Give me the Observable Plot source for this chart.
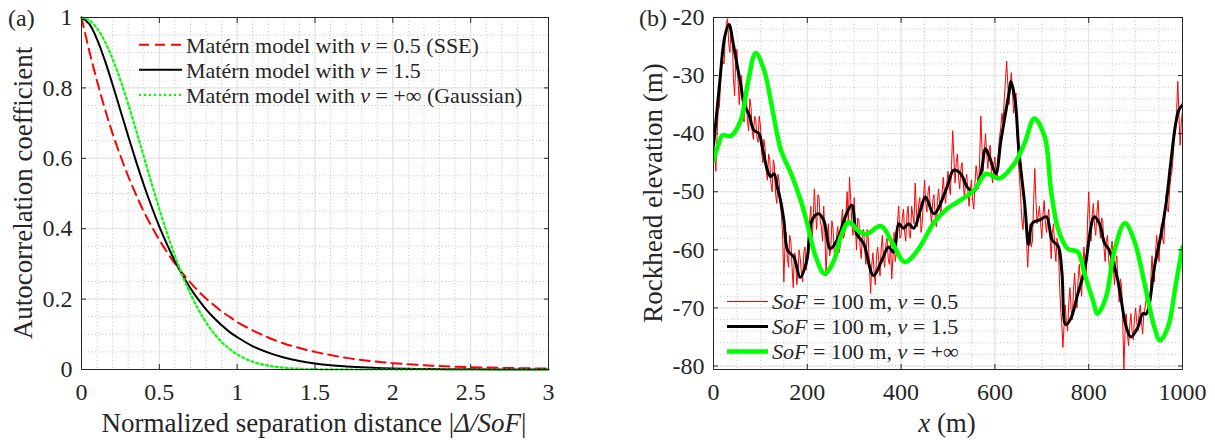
<!DOCTYPE html>
<html><head><meta charset="utf-8">
<script src="https://cdn.jsdelivr.net/npm/d3@7"></script>
<script src="https://cdn.jsdelivr.net/npm/@observablehq/plot@0.6"></script>
<style>
body{margin:0;background:#fff;width:1215px;height:440px;position:relative;overflow:hidden;font-family:"Liberation Serif","Times New Roman",serif;color:#262626}
.abs{position:absolute;top:0}
</style></head><body>
<div id="pa" class="abs" style="left:0"></div>
<div id="pb" class="abs" style="left:600px"></div>
<script>
// ---------- Panel (a) data ----------
const dist = [0,0.05,0.1,0.15,0.2,0.25,0.3,0.35,0.4,0.45,0.5,0.55,0.6,0.65,0.7,0.75,0.8,0.85,0.9,0.95,1,1.1,1.2,1.3,1.4,1.5,1.6,1.7,1.8,1.9,2,2.25,2.5,2.75,3];
const rhoSSE = [1,0.905,0.819,0.741,0.670,0.607,0.549,0.497,0.449,0.407,0.368,0.333,0.301,0.273,0.247,0.223,0.202,0.183,0.165,0.150,0.135,0.111,0.091,0.074,0.061,0.050,0.041,0.033,0.027,0.022,0.018,0.011,0.0067,0.0041,0.0025];
const rhoM15 = [1,0.982,0.938,0.878,0.809,0.736,0.663,0.592,0.525,0.463,0.406,0.355,0.308,0.267,0.231,0.199,0.171,0.147,0.126,0.107,0.092,0.066,0.048,0.034,0.024,0.017,0.012,0.0087,0.0061,0.0043,0.003,0.0012,0.0005,0.0002,0.0001];
const rhoGauss = [1,0.992,0.969,0.932,0.882,0.822,0.754,0.681,0.605,0.529,0.456,0.387,0.323,0.265,0.215,0.171,0.134,0.103,0.078,0.059,0.043,0.022,0.011,0.0049,0.0021,0.0009,0.0003,0.0001,0,0,0,0,0,0,0];
const ticksXa = [0,0.5,1,1.5,2,2.5,3];
const ticksYa = [0,0.2,0.4,0.6,0.8,1];
const legendA = [
  ["Matérn model with ", "ν", " = 0.5 (SSE)"],
  ["Matérn model with ", "ν", " = 1.5"],
  ["Matérn model with ", "ν", " = +∞ (Gaussian)"]
];

// ---------- Panel (b) data ----------
const xRed = [0,5,10,15,20,25,30,35,40,45,50,55,60,65,70,75,80,85,90,95,100,105,110,115,120,125,130,135,140,145,150,155,160,165,170,175,180,185,190,195,200,205,210,215,220,225,230,235,240,245,250,255,260,265,270,275,280,285,290,295,300,305,310,315,320,325,330,335,340,345,350,355,360,365,370,375,380,385,390,395,400,405,410,415,420,425,430,435,440,445,450,455,460,465,470,475,480,485,490,495,500,505,510,515,520,525,530,535,540,545,550,555,560,565,570,575,580,585,590,595,600,605,610,615,620,625,630,635,640,645,650,655,660,665,670,675,680,685,690,695,700,705,710,715,720,725,730,735,740,745,750,755,760,765,770,775,780,785,790,795,800,805,810,815,820,825,830,835,840,845,850,855,860,865,870,875,880,885,890,895,900,905,910,915,920,925,930,935,940,945,950,955,960,965,970,975,980,985,990,995,1000];
const zRed = [
 -41.5,-46.5,-36,-31,-27.5,-23.5,-20.2,-26,-23,-33.5,
 -25.5,-35,-30,-38,-33.5,-39.5,-35.5,-41,-37.5,-41.5,
 -38.5,-45,-42.5,-48,-44.5,-50,-45.5,-52,-48.5,-54,
 -65.5,-57,-63,-58.5,-66.5,-61,-64.5,-61.5,-65.5,-59.5,
 -62,-55,-58.5,-49.5,-56.5,-51,-56,-52.5,-64.5,-55.5,
 -60,-56.5,-62,-56,-59.5,-53,-57,-50,-47.5,-55.5,
 -51,-60,-55,-61.5,-56.5,-62.5,-58,-67.5,-60.5,-66,
 -59.5,-64.5,-57.5,-63,-58,-62.5,-65,-57,-60.5,-52.5,
 -57.5,-53,-58.5,-52.5,-58,-54,-48.5,-56,-51,-55.5,
 -48,-53.5,-49,-55.5,-50.5,-56,-49.5,-54,-47.5,-52,
 -46.5,-50.5,-39.5,-48.5,-43.5,-49.5,-45,-51,-47,-52.5,
 -48,-53,-45.5,-49.5,-37,-46.5,-40,-46,-42,-48.5,
 -44,-48,-40.5,-36.5,-34,-27.5,-35,-29.5,-36.5,-33,
 -45,-51,-56.5,-53,-63,-55.5,-58.5,-46,-55.5,-52.5,
 -58,-51.5,-57,-53,-61.5,-55.5,-62,-59,-70,-76.8,
 -69.5,-74,-66.5,-72,-64,-70,-62.5,-68,-59.5,-64,
 -50,-58.5,-52,-57.5,-51.5,-58,-55,-62,-57.5,-64,
 -58.5,-66,-61,-69,-66,-80.5,-71,-76.5,-71,-75.5,
 -70,-74,-69.5,-74.5,-70,-67,-70.5,-61,-65.5,-57.5,
 -62,-55.5,-59,-50.5,-53.5,-47.5,-44,-39.5,-31,-42,
 -36];
// readings half-way between the 5 m samples (x = 2.5, 7.5, ... 997.5)
const zRedMid = [
 -43,-40.5,-35.5,-27,-28,-21,-24.5,-22,-30.5,-27,
 -31,-30.5,-36,-34,-38,-34,-39.5,-37,-40.5,-37,
 -43,-41,-46.5,-43.5,-48.5,-44.5,-50.5,-47,-52.5,-58,
 -59,-61.5,-57.5,-63,-60.5,-66,-60,-64,-60.5,-63.5,
 -57.5,-52.5,-55,-53.5,-50.5,-55,-58.5,-57,-59,-61,
 -55,-60.5,-57.5,-60.5,-55.5,-58,-54,-55.5,-51.5,-57.5,
 -56,-54.5,-59.5,-57,-60,-56.5,-63,-62.5,-64,-61,
 -62,-60,-61.5,-59,-61.5,-58.5,-61.5,-62,-55,-58,
 -54.5,-57,-54,-57.5,-52.5,-55.5,-53,-52,-57,-51.5,
 -52,-50,-53.5,-51.5,-54,-51.5,-52.5,-50,-50.5,-48.5,
 -49,-45.5,-44,-45,-47.5,-46,-48.5,-48,-50,-49.5,
 -51.5,-48.5,-47.5,-44.5,-42.5,-43,-43.5,-43,-46.5,-45.5,
 -47,-43,-39,-38,-31,-31.5,-32,-33,-34,-40,
 -47.5,-55,-52.5,-58.5,-58,-59.5,-52,-51.5,-54,-55.5,
 -54,-55,-54.5,-57.5,-57,-59.5,-58,-65,-72.5,-73,
 -72.5,-69,-70.5,-67,-68,-65,-66,-62.5,-63,-55,
 -55,-54,-56,-53.5,-55.5,-54.5,-59.5,-58.5,-61.5,-60,
 -63,-62.5,-66,-65,-72,-74,-74.5,-73,-74,-72,
 -72.5,-71,-72.5,-71,-68.5,-69,-65,-64,-60.5,-60,
 -57.5,-58,-54,-53,-49.5,-46.5,-40.5,-36,-37,-38];
const xBlack = [0,5,13,24,33,42,51,58,65,76,86,97,104,115,122,129,136,143,150,158,171,185,199,210,224,235,249,263,284,295,305,320,341,359,373,384,395,405,416,427,441,452,470,498,512,527,541,555,570,580,591,602,613,630,634,643,651,664,672,680,697,710,722,735,743,751,762,776,791,812,823,834,844,862,880,890,905,915,923,940,955,965,975,985,992,1000];
const zBlack = [-42,-38,-31.4,-23.3,-21.2,-24.5,-28.5,-31.5,-34.8,-36.8,-39.4,-40,-42.3,-46.3,-47.4,-46.9,-49.2,-51.5,-54.9,-60.1,-61.2,-64.7,-61.8,-54.9,-53.8,-54.9,-59.8,-58.4,-53.7,-52.3,-57.2,-58.9,-64.4,-61.8,-59.5,-60.4,-55.5,-56.3,-55.5,-56.3,-53.2,-50.9,-53.8,-49.2,-46.3,-46.9,-49.2,-50,-46.9,-42.6,-44.6,-46.9,-41.1,-33,-31,-34.2,-42.8,-52.5,-59.1,-55.4,-54.8,-54.3,-58.3,-59.4,-64,-72.9,-71.8,-67.8,-63.5,-54.3,-55.5,-58.9,-60.1,-65.2,-73.3,-75,-73.3,-71,-71,-63,-57,-52,-45,-38.5,-36,-35];
const xGreen = [0,10,19,37,58,73,90,108,126,144,165,186,200,218,237,257,271,289,307,325,357,382,408,435,470,500,520,556,581,610,642,663,684,706,720,735,755,777,791,809,819,837,855,877,897,919,940,952,969,986,1000];
const zGreen = [-44.6,-42,-40.3,-40.4,-37.7,-31.4,-26.1,-29.1,-36,-42.9,-46.8,-51.5,-55.5,-61.2,-64.1,-61.8,-57.8,-55.2,-56.6,-57.3,-55.9,-58.9,-62.1,-60.1,-55.3,-52.8,-51.8,-49.7,-46.9,-47.7,-45.1,-41.7,-37.4,-40.5,-50,-56.5,-59.8,-60.4,-64.1,-68.7,-71,-68.1,-60.1,-55.4,-58.4,-65.8,-73.3,-75.6,-73.3,-65.8,-59.5];
const ticksXb = [0,200,400,600,800,1000];
const ticksYb = [-80,-70,-60,-50,-40,-30,-20];
const legendB = [
  ["SoF", " = 100 m, ", "ν", " = 0.5"],
  ["SoF", " = 100 m, ", "ν", " = 1.5"],
  ["SoF", " = 100 m, ", "ν", " = +∞"]
];

const FONT = "'Liberation Serif', 'Times New Roman', serif";
const INK = "#262626";
const MAJOR = "#e3e3e3";
const MINOR = "#c4c4c4";
const fmt = d => String(d);
const blank = () => "";
const baseStyle = {fontFamily: FONT, fontSize: "24px", color: INK, background: "transparent", overflow: "visible"};

function frameMarks(tx, ty) {
  return [
    Plot.frame({stroke: INK, strokeWidth: 1}),
    Plot.axisX(tx, {anchor: "bottom", tickSize: 0, tickPadding: 13, tickFormat: fmt, label: null}),
    Plot.axisY(ty, {anchor: "left", tickSize: 0, tickPadding: 9, tickFormat: fmt, label: null}),
    Plot.axisX(tx, {anchor: "bottom", tickSize: -5, tickFormat: blank, label: null, stroke: INK}),
    Plot.axisX(tx, {anchor: "top", tickSize: -5, tickFormat: blank, label: null, stroke: INK}),
    Plot.axisY(ty, {anchor: "left", tickSize: -5, tickFormat: blank, label: null, stroke: INK}),
    Plot.axisY(ty, {anchor: "right", tickSize: -5, tickFormat: blank, label: null, stroke: INK})
  ];
}

// ---------- Panel (a) ----------
const dataA = dist.map((d, i) => ({d, sse: rhoSSE[i], m15: rhoM15[i], g: rhoGauss[i]}));
const plotA = Plot.plot({
  width: 600, height: 440,
  marginLeft: 81, marginRight: 52, marginTop: 17, marginBottom: 71,
  style: baseStyle,
  x: {domain: [0, 3], label: null},
  y: {domain: [0, 1], label: null},
  marks: [
    Plot.gridX(d3.range(0, 3.001, 0.1), {stroke: MINOR, strokeOpacity: 1, strokeDasharray: "1,2.5"}),
    Plot.gridY(d3.range(0, 1.001, 0.05), {stroke: MINOR, strokeOpacity: 1, strokeDasharray: "1,2.5"}),
    Plot.gridX(ticksXa, {stroke: MAJOR, strokeOpacity: 1}),
    Plot.gridY(ticksYa, {stroke: MAJOR, strokeOpacity: 1}),
    Plot.line(dataA, {x: "d", y: "sse", stroke: "#ff0000", strokeWidth: 2, strokeDasharray: "10,6", curve: "catmull-rom"}),
    Plot.line(dataA, {x: "d", y: "m15", stroke: "#000000", strokeWidth: 2, curve: "catmull-rom"}),
    Plot.line(dataA, {x: "d", y: "g", stroke: "#00ff00", strokeWidth: 2.2, strokeDasharray: "2,3", curve: "catmull-rom"}),
    ...frameMarks(ticksXa, ticksYa)
  ]
});
document.getElementById("pa").appendChild(plotA);

// ---------- Panel (b) ----------
const red = [];
xRed.forEach((x, i) => {
  red.push({x, z: zRed[i]});
  if (i < zRedMid.length) red.push({x: x + 2.5, z: zRedMid[i]});
});
const black = xBlack.map((x, i) => ({x, z: zBlack[i]}));
const green = xGreen.map((x, i) => ({x, z: zGreen[i]}));
const plotB = Plot.plot({
  width: 615, height: 440,
  marginLeft: 113, marginRight: 33, marginTop: 17, marginBottom: 71,
  style: baseStyle,
  x: {domain: [0, 1000], label: null},
  y: {domain: [-80.6, -20], label: null},
  marks: [
    Plot.gridX(d3.range(0, 1001, 50), {stroke: MINOR, strokeOpacity: 1, strokeDasharray: "1,2.5"}),
    Plot.gridY(d3.range(-80, -19, 2), {stroke: MINOR, strokeOpacity: 1, strokeDasharray: "1,2.5"}),
    Plot.gridX(ticksXb, {stroke: MAJOR, strokeOpacity: 1}),
    Plot.gridY(ticksYb, {stroke: MAJOR, strokeOpacity: 1}),
    Plot.line(red, {x: "x", y: "z", stroke: "#ff0000", strokeWidth: 1, clip: true}),
    Plot.line(black, {x: "x", y: "z", stroke: "#000000", strokeWidth: 3, curve: "catmull-rom", clip: true}),
    Plot.line(green, {x: "x", y: "z", stroke: "#00ff00", strokeWidth: 4.5, curve: "catmull-rom", clip: true}),
    ...frameMarks(ticksXb, ticksYb)
  ]
});
document.getElementById("pb").appendChild(plotB);

// ---------- Overlay: titles, legends, panel labels ----------
const ov = d3.select("body").append("svg")
  .attr("width", 1215).attr("height", 440)
  .style("position", "absolute").style("left", "0px").style("top", "0px")
  .style("pointer-events", "none")
  .attr("font-family", FONT).attr("fill", INK);

function rich(x, y, parts, italicIdx, size, anchor) {
  const t = ov.append("text").attr("x", x).attr("y", y).attr("font-size", size).attr("text-anchor", anchor || "start");
  parts.forEach((p, i) => t.append("tspan").text(p).attr("font-style", italicIdx.includes(i) ? "italic" : null));
  return t;
}

// panel labels
rich(8, 26, ["(a)"], [], 24);
rich(639, 26, ["(b)"], [], 24);

// axis titles
rich(314, 432, ["Normalized separation distance |", "Δ/SoF", "|"], [1], 27, "middle");
rich(947, 432, ["x", " (m)"], [0], 27, "middle");
ov.append("text").attr("transform", "translate(23,193) rotate(-90)").attr("dy", "0.35em")
  .attr("text-anchor", "middle").attr("font-size", 27).text("Autocorrelation coefficient");
ov.append("text").attr("transform", "translate(653,193) rotate(-90)").attr("dy", "0.35em")
  .attr("text-anchor", "middle").attr("font-size", 27).text("Rockhead elevation (m)");

// legend (a)
const legA = [
  {y: 53.3, stroke: "#ff0000", w: 2, dash: "10,6"},
  {y: 78.3, stroke: "#000000", w: 2, dash: null},
  {y: 103.3, stroke: "#00ff00", w: 2.2, dash: "2,3"}
];
legA.forEach((s, i) => {
  ov.append("line").attr("x1", 139).attr("x2", 182).attr("y1", s.y - 8.5).attr("y2", s.y - 8.5)
    .attr("stroke", s.stroke).attr("stroke-width", s.w).attr("stroke-dasharray", s.dash);
  rich(186, s.y, legendA[i], [1], 22);
});

// legend (b)
const legB = [
  {y: 308.5, stroke: "#ff0000", w: 1},
  {y: 333.5, stroke: "#000000", w: 3},
  {y: 358.5, stroke: "#00ff00", w: 4.5}
];
legB.forEach((s, i) => {
  ov.append("line").attr("x1", 727).attr("x2", 768).attr("y1", s.y - 7).attr("y2", s.y - 7)
    .attr("stroke", s.stroke).attr("stroke-width", s.w);
  rich(772, s.y, legendB[i], [0, 2], 22);
});
</script>
</body></html>
